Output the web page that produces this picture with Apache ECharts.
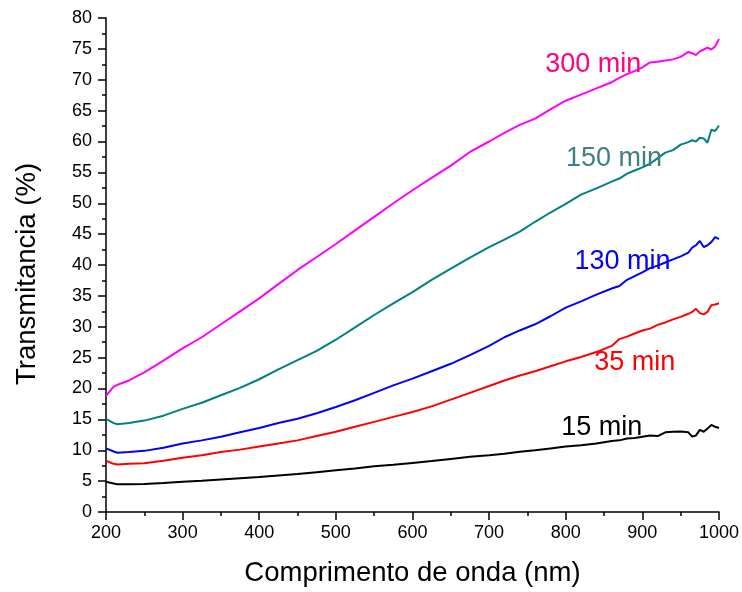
<!DOCTYPE html>
<html><head><meta charset="utf-8">
<script src="https://cdn.jsdelivr.net/npm/echarts@6/dist/echarts.min.js"></script>
<style>html,body{margin:0;padding:0;background:#fff}#c{width:742px;height:592px}</style>
</head><body><div id="c"></div>
<script>
const wavelength = [200,210,215,230,250,275,300,325,350,375,400,425,450,475,500,525,550,575,600,625,650,675,700,720,740,760,780,800,820,840,860,870,880,890,900,910,920,930,940,950,960,965,970,975,980,985,990,995,1000];
const t300 = [18.8,20.3,20.6,21.3,22.6,24.5,26.5,28.3,30.4,32.5,34.6,36.9,39.2,41.3,43.4,45.6,47.8,50.0,52.1,54.1,56.1,58.3,60.0,61.4,62.7,63.7,65.2,66.6,67.6,68.6,69.6,70.3,70.9,71.4,72.0,72.8,72.9,73.1,73.3,73.7,74.5,74.3,74.0,74.6,74.9,75.2,74.9,75.4,76.6];
const t150 = [15.1,14.4,14.2,14.4,14.8,15.6,16.7,17.7,18.9,20.1,21.5,23.1,24.6,26.1,27.9,29.9,31.9,33.8,35.6,37.6,39.4,41.2,42.9,44.1,45.4,47.0,48.5,49.9,51.4,52.4,53.5,54.0,54.8,55.3,55.8,56.4,57.3,58.2,58.6,59.5,59.9,60.2,60.0,60.6,60.5,59.8,61.9,61.7,62.6];
const t130 = [10.3,9.8,9.6,9.7,9.9,10.4,11.1,11.6,12.2,12.9,13.6,14.4,15.1,16.0,17.0,18.1,19.3,20.5,21.6,22.8,24.0,25.4,26.9,28.3,29.4,30.4,31.7,33.1,34.1,35.2,36.2,36.6,37.6,38.2,38.8,39.5,39.9,40.4,40.9,41.4,42.0,42.8,43.2,43.9,42.9,43.2,43.7,44.5,44.2];
const t35 = [8.3,7.8,7.7,7.8,7.9,8.3,8.8,9.2,9.7,10.1,10.6,11.1,11.6,12.3,13.0,13.8,14.6,15.4,16.2,17.1,18.2,19.3,20.4,21.3,22.1,22.8,23.6,24.4,25.1,25.9,26.9,28.0,28.4,28.9,29.4,29.7,30.3,30.7,31.2,31.6,32.1,32.4,32.9,32.2,32.0,32.4,33.5,33.6,33.8];
const t15 = [4.9,4.6,4.5,4.5,4.55,4.7,4.9,5.05,5.25,5.45,5.65,5.9,6.15,6.45,6.75,7.05,7.4,7.65,7.95,8.25,8.6,8.95,9.2,9.45,9.75,10.0,10.3,10.6,10.8,11.1,11.5,11.6,11.9,12.0,12.2,12.4,12.3,12.9,13.0,13.05,12.9,12.2,12.4,13.3,13.0,13.5,14.1,13.8,13.6];
const seriesNames = ['300 min','150 min','130 min','35 min','15 min'];
const seriesValues = [t300,t150,t130,t35,t15];
const lineColors = ['#ff00ff','#008080','#0000ff','#ff0000','#000000'];
const labelColors = ['#ff0080','#408080','#0000ff','#ff0000','#000000'];
const labelAnchors = [[836,72.4],[863,57.2],[874,40.5],[890,24.2],[847,13.7]];
const xTicks = {min:200,max:1000,interval:100};
const yTicks = {min:0,max:80,interval:5};

const FONT = '"Liberation Sans", Arial, sans-serif';
const chart = echarts.init(document.getElementById('c'), null, {renderer:'canvas'});
const axisCommon = {
  axisLine:{show:true,onZero:false,lineStyle:{color:'#000',width:1.5}},
  axisTick:{show:true,inside:false,length:8,lineStyle:{color:'#000',width:1.5}},
  minorTick:{show:true,splitNumber:2,length:4,lineStyle:{color:'#000',width:1.5}},
  splitLine:{show:false},
  axisLabel:{color:'#000',fontSize:18,fontFamily:FONT,formatter:v=>String(v)},
  nameTextStyle:{color:'#000',fontSize:27.5,fontFamily:FONT},
  nameLocation:'middle'
};
chart.setOption({
  animation:false,
  backgroundColor:'#fff',
  grid:{left:106,right:23,top:18,bottom:78,containLabel:false},
  xAxis:Object.assign({type:'value',name:'Comprimento de onda (nm)',nameGap:47},xTicks,axisCommon,{axisLabel:Object.assign({},axisCommon.axisLabel,{margin:12})}),
  yAxis:Object.assign({type:'value',name:'Transmitancia (%)',nameGap:65},yTicks,axisCommon,{
    axisLabel:Object.assign({},axisCommon.axisLabel,{margin:14}),
    nameTextStyle:Object.assign({},axisCommon.nameTextStyle,{padding:[0,18,0,0]})}),
  series:seriesNames.map((n,i)=>({
    name:n,type:'line',showSymbol:false,symbol:'none',
    lineStyle:{color:lineColors[i],width:2},
    data:wavelength.map((w,j)=>[w,seriesValues[i][j]]),
    markPoint:{symbol:'circle',symbolSize:1,itemStyle:{color:'rgba(0,0,0,0)'},
      label:{show:true,position:'inside',formatter:n,color:labelColors[i],fontSize:27,fontFamily:FONT},
      data:[{coord:labelAnchors[i]}]}
  }))
});
</script></body></html>
